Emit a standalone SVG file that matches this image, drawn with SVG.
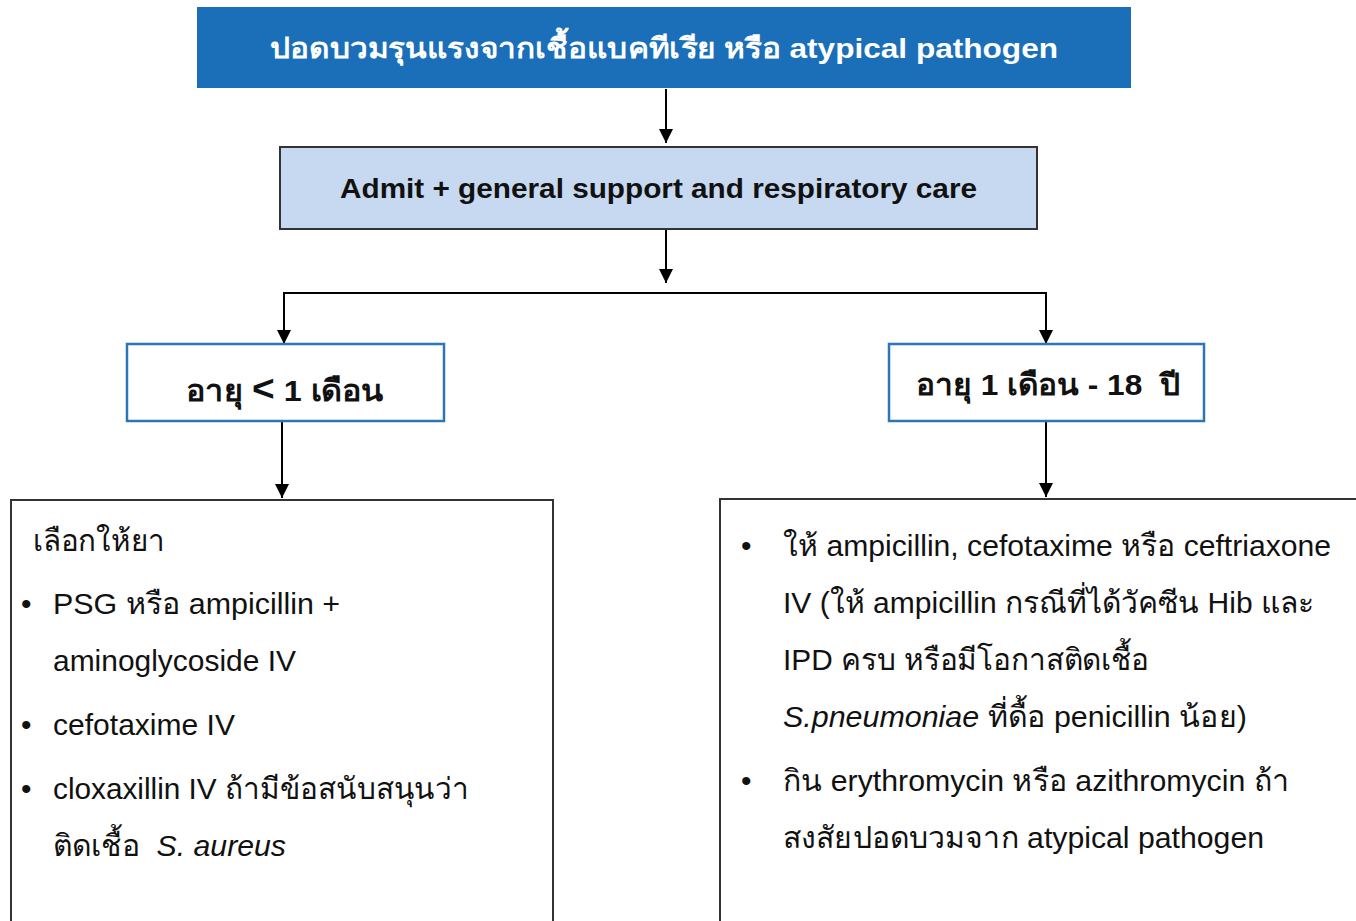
<svg xmlns="http://www.w3.org/2000/svg" width="1356" height="921" viewBox="0 0 1356 921">
<style>
.t{font-family:"Liberation Sans",Arial,"Noto Sans",sans-serif;}
.b{font-weight:bold;}
.ln{stroke:#000;stroke-width:2;fill:none;}
.box{fill:#fff;stroke:#2e75b6;stroke-width:2.5;}
.gbox{fill:#fff;stroke:#333;stroke-width:2;}
.body{font-size:30px;fill:#111;}
</style>
<defs>
<marker id="ah2" viewBox="0 0 14 14" refX="14" refY="7" markerWidth="14" markerHeight="14" markerUnits="userSpaceOnUse" orient="auto">
<path d="M0,0 L14,7 L0,14 z" fill="#000"/>
</marker>
</defs>
<rect width="1356" height="921" fill="#fff"/>
<g id="connectors">
<line class="ln" x1="666" y1="89" x2="666" y2="143" marker-end="url(#ah2)"/>
<line class="ln" x1="666" y1="230" x2="666" y2="283" marker-end="url(#ah2)"/>
<polyline class="ln" points="284,300 284,293 1046,293 1046,300"/>
<line class="ln" x1="284" y1="292" x2="284" y2="344" marker-end="url(#ah2)"/>
<line class="ln" x1="1046" y1="292" x2="1046" y2="344" marker-end="url(#ah2)"/>
<line class="ln" x1="282" y1="421" x2="282" y2="498" marker-end="url(#ah2)"/>
<line class="ln" x1="1046" y1="421" x2="1046" y2="497" marker-end="url(#ah2)"/>
</g>
<g id="top">
<rect x="197" y="7" width="934" height="81" fill="#1a6fb8"/>
<text class="t b" x="270" y="58" font-size="28" fill="#fff" textLength="788" lengthAdjust="spacingAndGlyphs">ปอดบวมรุนแรงจากเชื้อแบคทีเรีย หรือ atypical pathogen</text>
</g>
<g id="admit">
<rect x="280" y="147" width="757" height="82" fill="#c6d9f0" stroke="#333" stroke-width="2"/>
<text class="t b" x="340" y="198" font-size="27" fill="#111" textLength="637" lengthAdjust="spacingAndGlyphs">Admit + general support and respiratory care</text>
</g>
<g id="age1">
<rect class="box" x="127" y="344" width="317" height="77"/>
<text class="t b" x="186" y="401" font-size="30" fill="#111" textLength="198" lengthAdjust="spacingAndGlyphs">อายุ <tspan font-size="36">&lt;</tspan> 1 เดือน</text>
</g>
<g id="age2">
<rect class="box" x="889" y="344" width="315" height="77"/>
<text class="t b" x="916" y="395" font-size="30" fill="#111" textLength="264" lengthAdjust="spacingAndGlyphs" xml:space="preserve">อายุ 1 เดือน - 18  ปี</text>
</g>
<g id="left">
<rect class="gbox" x="11" y="500" width="542" height="430"/>
<text class="t body" x="33" y="551" textLength="132" lengthAdjust="spacingAndGlyphs">เลือกให้ยา</text>
<text class="t body" x="21" y="614">•</text>
<text class="t body" x="53" y="614" textLength="287" lengthAdjust="spacingAndGlyphs">PSG หรือ ampicillin +</text>
<text class="t body" x="53" y="671" textLength="243" lengthAdjust="spacingAndGlyphs">aminoglycoside IV</text>
<text class="t body" x="21" y="735">•</text>
<text class="t body" x="53" y="735" textLength="182" lengthAdjust="spacingAndGlyphs">cefotaxime IV</text>
<text class="t body" x="21" y="799">•</text>
<text class="t body" x="53" y="799" textLength="416" lengthAdjust="spacingAndGlyphs">cloxaxillin IV ถ้ามีข้อสนับสนุนว่า</text>
<text class="t body" x="53" y="856" xml:space="preserve" textLength="233" lengthAdjust="spacingAndGlyphs">ติดเชื้อ  <tspan font-style="italic">S. aureus</tspan></text>
</g>
<g id="right">
<rect class="gbox" x="720" y="499" width="650" height="430"/>
<text class="t body" x="741" y="556">•</text>
<text class="t body" x="783" y="556" textLength="548" lengthAdjust="spacingAndGlyphs">ให้ ampicillin, cefotaxime หรือ ceftriaxone</text>
<text class="t body" x="783" y="613" textLength="531" lengthAdjust="spacingAndGlyphs">IV (ให้ ampicillin กรณีที่ได้วัคซีน Hib และ</text>
<text class="t body" x="783" y="670" textLength="366" lengthAdjust="spacingAndGlyphs">IPD ครบ หรือมีโอกาสติดเชื้อ</text>
<text class="t body" x="783" y="727" textLength="464" lengthAdjust="spacingAndGlyphs"><tspan font-style="italic">S.pneumoniae</tspan> ที่ดื้อ penicillin น้อย)</text>
<text class="t body" x="741" y="791">•</text>
<text class="t body" x="783" y="791" textLength="506" lengthAdjust="spacingAndGlyphs">กิน erythromycin หรือ azithromycin ถ้า</text>
<text class="t body" x="783" y="848" textLength="481" lengthAdjust="spacingAndGlyphs">สงสัยปอดบวมจาก atypical pathogen</text>
</g>
</svg>
